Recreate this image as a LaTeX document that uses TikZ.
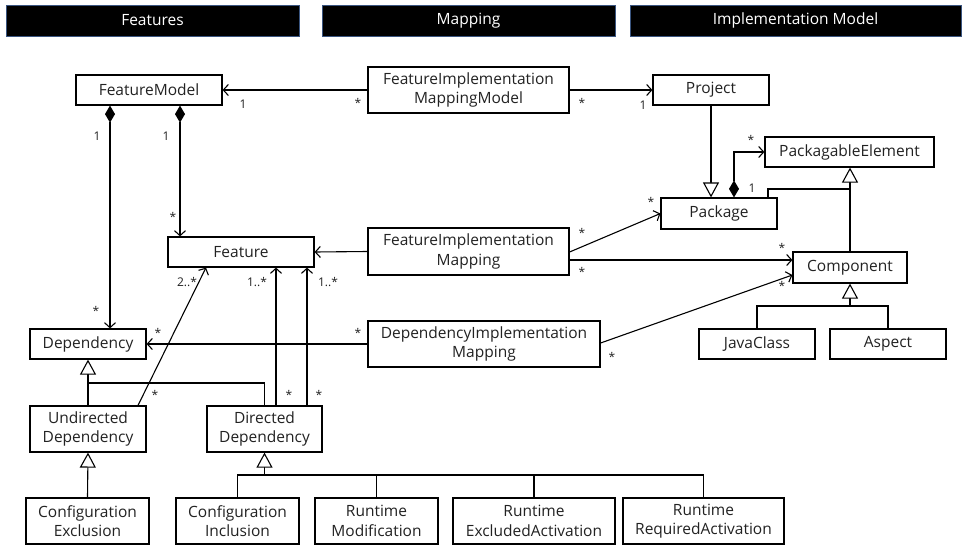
\documentclass[tikz,border=0pt]{standalone}
\usepackage{fontspec}
\setmainfont{Open Sans}
\usetikzlibrary{arrows.meta}
\definecolor{hdrborder}{HTML}{3A5580}
\definecolor{txt}{HTML}{222222}
\begin{document}
\begin{tikzpicture}[x=1pt,y=-1pt,
  cls/.style={draw=black, line width=1.2pt, fill=white, align=center, inner sep=0pt,
    font=\fontsize{15.5}{19.5}\selectfont, text=txt},
  hdr/.style={draw=hdrborder, fill=black, text=white, line width=1pt, inner sep=0pt,
    minimum height=31pt, font=\fontsize{15.5}{17}\selectfont},
  conn/.style={line width=1.1pt, line join=miter},
  assoc/.style={conn, -{Straight Barb[length=5pt,width=11pt,line width=1.1pt]}},
  gen/.style={conn, -{Triangle[open,length=15pt,width=16pt,fill=white,line width=1.1pt]}},
  compo/.style={conn, {Diamond[length=17pt,width=10pt]}-{Straight Barb[length=5pt,width=11pt,line width=1.1pt]}},
  mult/.style={font=\fontsize{12}{14}\selectfont, text=txt, inner sep=0pt}
]
\useasboundingbox (0,0) rectangle (963,546);
\fill[white] (0,0) rectangle (963,546);

% headers
\node[hdr, minimum width=293pt] (h1) at (152.5,20.5) {Features};
\node[hdr, minimum width=293pt] (h2) at (468.5,20.5) {Mapping};
\node[hdr, minimum width=331pt] (h3) at (795.5,20.5) {Implementation Model};

% helper coordinates
\coordinate (x110) at (110,0);
\coordinate (x180) at (180,0);
\coordinate (x734) at (734,0);
\coordinate (x768) at (768,0);
\coordinate (x138) at (138,0);
\coordinate (x206) at (206,0);
\coordinate (x276) at (276,0);
\coordinate (x307) at (307,0);
\coordinate (y189) at (0,189);
\coordinate (y252) at (0,252);
\coordinate (y260) at (0,260);
\coordinate (y275) at (0,275);
\coordinate (y343) at (0,343);
\coordinate (y383) at (0,383);
\coordinate (y475) at (0,475);
\coordinate (y306) at (0,306);

% classes
\node[cls, minimum width=146pt, minimum height=30pt] (fm) at (149,90) {FeatureModel};
\node[cls, minimum width=201pt, minimum height=46pt] (fmm) at (468.5,90) {FeatureImplementation\\MappingModel};
\node[cls, minimum width=116pt, minimum height=30pt] (proj) at (711,90) {Project};
\node[cls, minimum width=169pt, minimum height=30pt] (pe) at (849.5,152) {PackagableElement};
\node[cls, minimum width=116pt, minimum height=31pt] (pkg) at (719,213.5) {Package};
\node[cls, minimum width=146pt, minimum height=30pt] (feat) at (241,252) {Feature};
\node[cls, minimum width=201pt, minimum height=47pt] (fim) at (468.5,251.5) {FeatureImplementation\\Mapping};
\node[cls, minimum width=114pt, minimum height=31pt] (comp) at (850,267.5) {Component};
\node[cls, minimum width=116pt, minimum height=30pt] (dep) at (88,344) {Dependency};
\node[cls, minimum width=232pt, minimum height=46pt] (dim) at (484,344) {DependencyImplementation\\Mapping};
\node[cls, minimum width=116pt, minimum height=30pt] (jc) at (757,344) {JavaClass};
\node[cls, minimum width=116pt, minimum height=30pt] (asp) at (888,344) {Aspect};
\node[cls, minimum width=116pt, minimum height=46pt] (und) at (88,429) {Undirected\\Dependency};
\node[cls, minimum width=115pt, minimum height=46pt] (dir) at (264.5,429) {Directed\\Dependency};
\node[cls, minimum width=123pt, minimum height=46pt] (cex) at (87.5,521) {Configuration\\Exclusion};
\node[cls, minimum width=123pt, minimum height=46pt] (cin) at (237.5,521) {Configuration\\Inclusion};
\node[cls, minimum width=123pt, minimum height=46pt] (rmo) at (376.5,521) {Runtime\\Modification};
\node[cls, minimum width=162pt, minimum height=46pt] (rea) at (534,521) {Runtime\\ExcludedActivation};
\node[cls, minimum width=161pt, minimum height=46pt] (rra) at (703.5,521) {Runtime\\RequiredActivation};

% associations
\draw[assoc] (fmm.west) -- (fm.east);
\draw[assoc] (fmm.east) -- (proj.west);
\draw[compo] (fm.south -| x110) -- (dep.north -| x110);
\draw[compo] (fm.south -| x180) -- (feat.north -| x180);
\draw[compo] (pkg.north -| x734) |- (pe.west);
\draw[assoc] (fim.west) -- (feat.east);
\draw[assoc] (fim.east |- y252) -- (pkg.west);
\draw[assoc] (fim.east |- y260) -- (comp.west |- y260);
\draw[assoc] (dim.west) -- (dep.east);
\draw[assoc] (dim.east |- y343) -- (comp.west |- y275);
\draw[assoc] (und.north -| x138) -- (feat.south -| x206);
\draw[assoc] (dir.north -| x276) -- (feat.south -| x276);
\draw[assoc] (dir.north -| x307) -- (feat.south -| x307);

% generalizations
\draw[gen] (proj.south) -- (pkg.north -| proj.south);
\draw[conn] (pkg.north -| x768) |- (y189 -| comp.north);
\draw[gen] (comp.north) -- (pe.south -| comp.north);
\draw[conn] (dir.north) |- (y383 -| dep.south);
\draw[gen] (und.north) -- (dep.south);
\draw[gen] (cex.north) -- (und.south);
\draw[conn] (cin.north) |- (y475 -| rra.north) -- (rra.north);
\draw[conn] (rmo.north) -- (rmo.north |- y475);
\draw[conn] (rea.north) -- (rea.north |- y475);
\draw[gen] (y475 -| dir.south) -- (dir.south);
\draw[conn] (jc.north) |- (y306 -| asp.north) -- (asp.north);
\draw[gen] (y306 -| comp.south) -- (comp.south);

% multiplicities
\node[mult] (m1) at (358,103) {*};
\node[mult] (m2) at (243,104) {1};
\node[mult] (m3) at (582,103) {*};
\node[mult] (m4) at (643,105) {1};
\node[mult] (m5) at (97,136) {1};
\node[mult] (m6) at (96,311) {*};
\node[mult] (m7) at (166,136) {1};
\node[mult] (m8) at (173,217) {*};
\node[mult] (m9) at (751,140) {*};
\node[mult] (m10) at (752,188) {1};
\node[mult] (m11) at (582,233) {*};
\node[mult] (m12) at (651,202) {*};
\node[mult] (m13) at (582,272) {*};
\node[mult] (m14) at (782,248) {*};
\node[mult] (m15) at (358,333) {*};
\node[mult] (m16) at (158,333) {*};
\node[mult] (m17) at (612,357) {*};
\node[mult] (m18) at (782,286) {*};
\node[mult] (m19) at (155,395) {*};
\node[mult] (m20) at (187,282) {2..*};
\node[mult] (m21) at (289,395) {*};
\node[mult] (m22) at (257,282) {1..*};
\node[mult] (m23) at (319,395) {*};
\node[mult] (m24) at (328,282) {1..*};
\end{tikzpicture}
\end{document}
